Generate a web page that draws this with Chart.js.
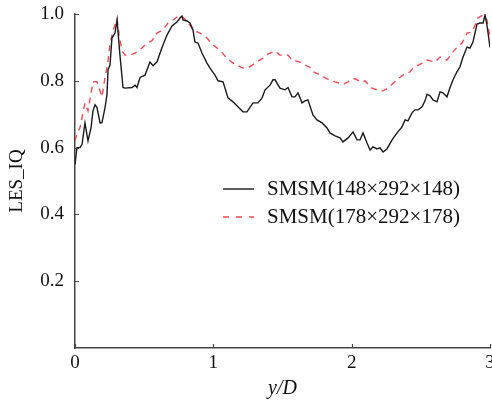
<!DOCTYPE html>
<html>
<head>
<meta charset="utf-8">
<script src="https://cdn.jsdelivr.net/npm/chart.js@4.4.1/dist/chart.umd.min.js"></script>
<style>
html,body{margin:0;padding:0;background:#fff;}
#wrap{width:492px;height:405px;position:relative;}
</style>
</head>
<body>
<div id="wrap"><canvas id="c" width="492" height="405"></canvas></div>
<script>
// ---- data ----
const seriesLabels = ['SMSM(148\u00d7292\u00d7148)', 'SMSM(178\u00d7292\u00d7178)'];
const xTickValues = [0, 1, 2, 3];
const yTickValues = [0.2, 0.4, 0.6, 0.8, 1.0];

const xBlack = [0.000,0.014,0.036,0.051,0.072,0.094,0.116,0.130,0.145,0.159,0.181,0.195,0.217,0.231,0.239,0.253,0.267,0.289,0.304,0.325,0.347,0.361,0.412,0.434,0.448,0.470,0.506,0.542,0.564,0.593,0.629,0.665,0.701,0.737,0.759,0.773,0.781,0.810,0.831,0.853,0.867,0.889,0.918,0.954,0.976,1.012,1.034,1.070,1.106,1.142,1.178,1.214,1.243,1.287,1.323,1.352,1.374,1.410,1.431,1.446,1.482,1.518,1.540,1.569,1.590,1.612,1.641,1.663,1.684,1.720,1.749,1.786,1.822,1.843,1.880,1.916,1.937,1.974,2.010,2.039,2.060,2.082,2.111,2.133,2.154,2.183,2.205,2.227,2.255,2.292,2.328,2.364,2.386,2.407,2.436,2.458,2.480,2.509,2.530,2.545,2.567,2.588,2.617,2.639,2.660,2.689,2.711,2.733,2.761,2.783,2.805,2.834,2.855,2.877,2.906,2.928,2.950,2.964,2.978,3.000];
const yBlack = [0.55,0.60,0.60,0.61,0.674,0.62,0.66,0.71,0.728,0.72,0.674,0.675,0.72,0.758,0.833,0.847,0.928,0.943,0.982,0.877,0.78,0.778,0.78,0.787,0.78,0.81,0.817,0.856,0.845,0.857,0.90,0.937,0.964,0.976,0.988,0.994,0.982,0.979,0.973,0.952,0.916,0.913,0.883,0.853,0.838,0.817,0.80,0.797,0.749,0.737,0.722,0.707,0.707,0.734,0.734,0.749,0.773,0.787,0.803,0.803,0.778,0.773,0.78,0.752,0.752,0.764,0.734,0.74,0.743,0.698,0.683,0.674,0.659,0.644,0.635,0.629,0.617,0.629,0.647,0.623,0.623,0.644,0.614,0.593,0.602,0.596,0.599,0.587,0.596,0.623,0.644,0.662,0.683,0.68,0.704,0.713,0.713,0.722,0.74,0.76,0.755,0.743,0.737,0.767,0.764,0.752,0.78,0.803,0.827,0.842,0.871,0.901,0.898,0.916,0.97,0.973,0.973,0.997,0.967,0.90];

const xRed = [0.000,0.014,0.036,0.072,0.094,0.130,0.159,0.181,0.195,0.217,0.239,0.253,0.275,0.304,0.318,0.340,0.361,0.398,0.434,0.484,0.520,0.557,0.593,0.636,0.672,0.708,0.759,0.781,0.817,0.853,0.904,0.954,0.998,1.048,1.092,1.135,1.171,1.214,1.265,1.301,1.359,1.395,1.446,1.482,1.540,1.569,1.627,1.648,1.699,1.720,1.786,1.822,1.880,1.937,1.974,2.010,2.024,2.075,2.096,2.147,2.183,2.227,2.263,2.335,2.371,2.422,2.443,2.509,2.545,2.602,2.639,2.689,2.725,2.761,2.798,2.834,2.870,2.892,2.913,2.950,2.978,3.000];
const yRed = [0.62,0.64,0.66,0.733,0.71,0.797,0.797,0.77,0.752,0.81,0.86,0.91,0.95,0.985,0.94,0.89,0.877,0.877,0.883,0.898,0.913,0.92,0.943,0.952,0.973,0.982,0.997,0.99,0.976,0.952,0.943,0.928,0.907,0.892,0.87,0.855,0.847,0.838,0.842,0.853,0.868,0.880,0.889,0.877,0.877,0.862,0.856,0.85,0.84,0.827,0.815,0.806,0.797,0.79,0.797,0.806,0.806,0.795,0.80,0.778,0.773,0.77,0.778,0.806,0.817,0.827,0.838,0.853,0.862,0.856,0.871,0.862,0.883,0.90,0.913,0.943,0.946,0.967,0.988,0.997,0.982,0.93];

const xTitle = 'y/D';
const yTitle = 'LES_IQ';

// ---- styles ----
const FONT = '"Liberation Serif", "Times New Roman", serif';
const AXIS_COLOR = '#444';
const BLACK = '#1a1a1a';
const RED = '#ef4a55';

const toPts = (xs, ys) => xs.map((x, i) => ({x: x, y: ys[i]}));

const inwardTicks = {
  id: 'inwardTicks',
  afterDraw(chart) {
    const ctx = chart.ctx;
    const xs = chart.scales.x, ys = chart.scales.y;
    ctx.save();
    ctx.strokeStyle = AXIS_COLOR;
    ctx.lineWidth = 1.2;
    ctx.beginPath();
    xTickValues.forEach(v => {
      const p = Math.round(xs.getPixelForValue(v)) + 0.5;
      ctx.moveTo(p, xs.top);
      ctx.lineTo(p, xs.top - 4);
    });
    yTickValues.forEach(v => {
      const p = Math.round(ys.getPixelForValue(v)) + 0.5;
      ctx.moveTo(ys.right, p);
      ctx.lineTo(ys.right + 4, p);
    });
    ctx.stroke();
    ctx.restore();
  }
};

const customLegend = {
  id: 'customLegend',
  afterDraw(chart) {
    const ctx = chart.ctx;
    const rows = [
      {y: 189, color: BLACK, dash: [], width: 1.4},
      {y: 217, color: RED, dash: [6, 7], width: 1.4}
    ];
    ctx.save();
    ctx.font = '21px ' + FONT;
    ctx.textBaseline = 'middle';
    ctx.fillStyle = '#111';
    rows.forEach((r, i) => {
      ctx.beginPath();
      ctx.setLineDash(r.dash);
      ctx.strokeStyle = r.color;
      ctx.lineWidth = r.width;
      ctx.moveTo(223, r.y);
      ctx.lineTo(254, r.y);
      ctx.stroke();
      ctx.setLineDash([]);
      ctx.fillText(chart.data.datasets[i].label, 267, r.y);
    });
    ctx.restore();
  }
};

new Chart(document.getElementById('c'), {
  type: 'line',
  data: {
    datasets: [
      {label: seriesLabels[0], data: toPts(xBlack, yBlack), borderColor: BLACK, borderWidth: 1.4, pointRadius: 0, tension: 0, fill: false},
      {label: seriesLabels[1], data: toPts(xRed, yRed), borderColor: RED, borderWidth: 1.4, borderDash: [6, 5], pointRadius: 0, tension: 0, fill: false}
    ]
  },
  options: {
    responsive: false,
    animation: false,
    devicePixelRatio: 1,
    layout: {padding: {left: 0, top: 14, right: 2, bottom: 0}},
    plugins: {legend: {display: false}, tooltip: {enabled: false}},
    scales: {
      x: {
        type: 'linear', min: 0, max: 3,
        afterBuildTicks: s => { s.ticks = xTickValues.map(v => ({value: v})); },
        afterFit: s => { s.height = 57; s.paddingLeft = 0; s.paddingRight = 0; },
        grid: {display: false, drawTicks: false},
        border: {display: true, color: AXIS_COLOR, width: 1.5},
        ticks: {color: '#111', font: {family: FONT, size: 19}, padding: 4, maxRotation: 0},
        title: {display: true, text: xTitle, color: '#111', font: {family: FONT, size: 20, style: 'italic'}, padding: {top: 0, bottom: 4}}
      },
      y: {
        type: 'linear', min: 0, max: 1,
        afterBuildTicks: s => { s.ticks = [0].concat(yTickValues).map(v => ({value: v})); },
        afterFit: s => { s.width = 75; s.paddingTop = 0; s.paddingBottom = 0; },
        grid: {display: false, drawTicks: false},
        border: {display: true, color: AXIS_COLOR, width: 1.5},
        ticks: {color: '#111', font: {family: FONT, size: 19}, padding: 11,
          callback: v => (v === 0 ? '' : v.toFixed(1))},
        title: {display: true, text: yTitle, color: '#111', font: {family: FONT, size: 19}, padding: {top: 6, bottom: 0}}
      }
    }
  },
  plugins: [inwardTicks, customLegend]
});
</script>
</body>
</html>
